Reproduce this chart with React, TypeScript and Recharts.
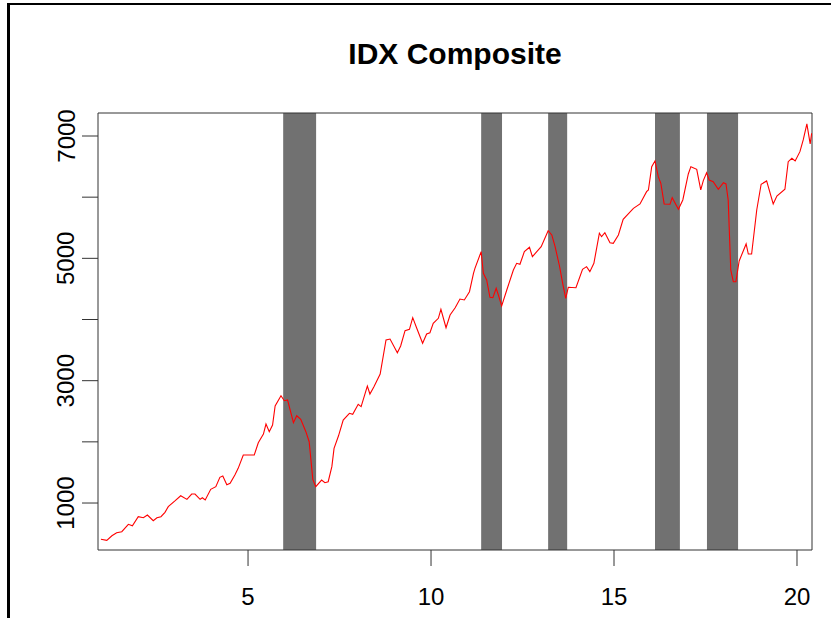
import React from "react";
import { ComposedChart, Line, XAxis, YAxis, ReferenceArea } from "recharts";

const XS = [
  0.98, 1.14, 1.28, 1.41, 1.55, 1.73, 1.84, 2.0, 2.14, 2.25, 2.41, 2.51, 2.62, 2.73, 2.82, 3.01, 3.16, 3.33, 3.46, 3.55,
  3.69, 3.75, 3.83, 3.98, 4.12, 4.23, 4.31, 4.42, 4.51, 4.64, 4.73, 4.87, 5.17, 5.28, 5.42, 5.49, 5.58, 5.67, 5.74, 5.9,
  5.99, 6.08, 6.24, 6.33, 6.44, 6.58, 6.67, 6.77, 6.85, 7.01, 7.1, 7.19, 7.29, 7.35, 7.47, 7.6, 7.77, 7.86, 8.01, 8.09,
  8.26, 8.33, 8.44, 8.61, 8.77, 8.88, 9.08, 9.17, 9.29, 9.41, 9.5, 9.61, 9.77, 9.88, 9.97, 10.06, 10.2, 10.27, 10.41, 10.52,
  10.66, 10.79, 10.91, 11.05, 11.16, 11.2, 11.37, 11.43, 11.52, 11.61, 11.69, 11.78, 11.84, 11.93, 12.07, 12.25, 12.34, 12.43, 12.55, 12.69,
  12.77, 12.89, 13.01, 13.2, 13.3, 13.39, 13.51, 13.6, 13.68, 13.75, 13.96, 14.14, 14.25, 14.34, 14.45, 14.6, 14.66, 14.75, 14.89, 14.98,
  15.12, 15.25, 15.53, 15.71, 15.89, 15.94, 16.03, 16.12, 16.21, 16.28, 16.37, 16.53, 16.59, 16.76, 16.88, 17.03, 17.1, 17.26, 17.37, 17.44,
  17.53, 17.6, 17.71, 17.85, 17.99, 18.06, 18.12, 18.19, 18.26, 18.33, 18.42, 18.61, 18.67, 18.76, 18.9, 19.02, 19.17, 19.35, 19.45, 19.67,
  19.76, 19.86, 19.95, 20.08, 20.17, 20.27, 20.36, 20.4,
];

const IDX = [
  407, 390, 465, 514, 531, 652, 629, 776, 760, 804, 711, 760, 776, 848, 940, 1038, 1119, 1060, 1147, 1147,
  1060, 1087, 1049, 1224, 1267, 1420, 1441, 1299, 1322, 1458, 1567, 1785, 1785, 1986, 2128, 2292, 2166, 2275, 2586, 2754,
  2673, 2684, 2313, 2427, 2368, 2166, 2002, 1387, 1267, 1376, 1332, 1348, 1594, 1894, 2095, 2357, 2467, 2450, 2614, 2575,
  2913, 2782, 2902, 3109, 3665, 3681, 3457, 3567, 3817, 3840, 4030, 3856, 3611, 3763, 3784, 3938, 4020, 4167, 3866, 4074,
  4193, 4335, 4319, 4455, 4756, 4837, 5109, 4756, 4646, 4363, 4357, 4510, 4401, 4221, 4483, 4810, 4919, 4903, 5109, 5181,
  5027, 5109, 5191, 5452, 5382, 5191, 4875, 4581, 4347, 4527, 4520, 4821, 4864, 4782, 4919, 5410, 5354, 5419, 5256, 5246,
  5382, 5638, 5818, 5889, 6090, 6118, 6499, 6592, 6335, 6227, 5889, 5884, 5992, 5802, 5954, 6379, 6499, 6456, 6118, 6270,
  6400, 6281, 6253, 6129, 6237, 6216, 5954, 4810, 4618, 4618, 4957, 5235, 5071, 5071, 5791, 6211, 6265, 5889, 6019, 6129,
  6580, 6636, 6592, 6744, 6935, 7197, 6870, 7045,
];

const BAND_START = [5.96, 11.37, 13.2, 16.12, 17.54];
const BAND_END = [6.86, 11.94, 13.72, 16.8, 18.39];

const X_TICKS = [5, 10, 15, 20];
const Y_TICKS = [1000, 2000, 3000, 4000, 5000, 6000, 7000];
const Y_LABELED = [1000, 3000, 5000, 7000];

const X_DOMAIN: [number, number] = [0.9, 20.41];
const Y_DOMAIN: [number, number] = [232, 7376];

const TITLE = "IDX Composite";

const data = XS.map((x, i) => ({ x, idx: IDX[i] }));

const FONT = "'Liberation Sans', Arial, sans-serif";

const YTick = (props: any) => {
  const { y, payload } = props;
  if (!Y_LABELED.includes(payload.value)) return null;
  return (
    <text
      x={66}
      y={y}
      transform={`rotate(-90, 66, ${y})`}
      textAnchor="middle"
      dominantBaseline="central"
      fontFamily={FONT}
      fontSize={24}
      fill="#000"
    >
      {payload.value}
    </text>
  );
};

const XTick = (props: any) => {
  const { x, payload } = props;
  return (
    <text x={x} y={596} textAnchor="middle" dominantBaseline="central" fontFamily={FONT} fontSize={24} fill="#000">
      {payload.value}
    </text>
  );
};

export default function App() {
  return (
    <div style={{ position: "absolute", left: 0, top: 0, width: 831, height: 618, background: "#fff", overflow: "hidden" }}>
      <div
        style={{
          position: "absolute",
          left: 7,
          top: 3,
          width: 830,
          height: 620,
          borderTop: "2px solid #000",
          borderLeft: "3px solid #000",
        }}
      />
      <div
        style={{
          position: "absolute",
          left: 98,
          width: 714,
          top: 36,
          textAlign: "center",
          fontFamily: FONT,
          fontWeight: "bold",
          fontSize: 30,
          lineHeight: "36px",
          color: "#000",
        }}
      >
        {TITLE}
      </div>
      <div style={{ position: "absolute", left: 0, top: 0 }}>
        <ComposedChart width={831} height={618} data={data} margin={{ top: 113, right: 19, left: 38, bottom: 38 }}>
          <XAxis
            dataKey="x"
            type="number"
            domain={X_DOMAIN}
            allowDataOverflow
            ticks={X_TICKS}
            tickSize={16}
            axisLine={false}
            tickLine={{ stroke: "#333", strokeWidth: 1 }}
            tick={<XTick />}
            height={30}
            interval={0}
          />
          <YAxis
            type="number"
            domain={Y_DOMAIN}
            allowDataOverflow
            ticks={Y_TICKS}
            tickSize={16}
            axisLine={false}
            tickLine={{ stroke: "#333", strokeWidth: 1 }}
            tick={<YTick />}
            width={60}
            interval={0}
          />
          {BAND_START.map((s, i) => (
            <ReferenceArea
              key={i}
              x1={s}
              x2={BAND_END[i]}
              y1={Y_DOMAIN[0]}
              y2={Y_DOMAIN[1]}
              fill="#717171"
              fillOpacity={1}
              stroke="none"
              ifOverflow="hidden"
            />
          ))}
          <Line
            dataKey="idx"
            stroke="#ff0000"
            strokeWidth={1.1}
            dot={false}
            isAnimationActive={false}
            type="linear"
          />
          <ReferenceArea
            x1={X_DOMAIN[0]}
            x2={X_DOMAIN[1]}
            y1={Y_DOMAIN[0]}
            y2={Y_DOMAIN[1]}
            fill="none"
            fillOpacity={0}
            stroke="#333"
            strokeWidth={1}
          />
        </ComposedChart>
      </div>
    </div>
  );
}
